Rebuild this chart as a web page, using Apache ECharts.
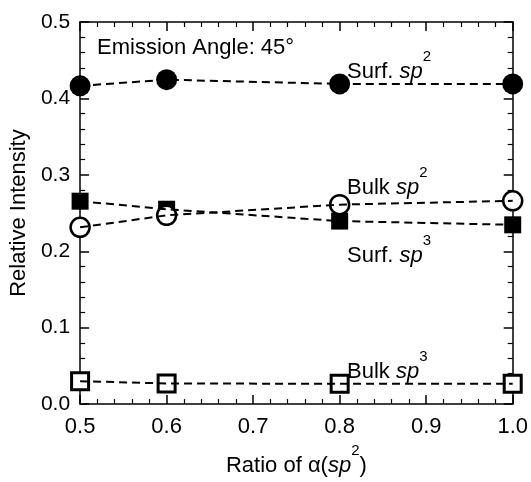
<!DOCTYPE html>
<html><head><meta charset="utf-8">
<script src="https://cdn.jsdelivr.net/npm/echarts@6/dist/echarts.min.js"></script>
<style>html,body{margin:0;padding:0;background:#fff}#c{width:531px;height:482px}</style>
</head><body><div id="c"></div>
<script>
var ratios = [0.5, 0.6, 0.8, 1.0];
var surfSp2 = [0.4165, 0.4245, 0.419, 0.419];
var surfSp3 = [0.2655, 0.255, 0.2395, 0.2346];
var bulkSp2 = [0.2313, 0.247, 0.261, 0.266];
var bulkSp3 = [0.030, 0.027, 0.0266, 0.0266];
var xTicks = [0.5, 0.6, 0.7, 0.8, 0.9, 1.0];
var yTicks = [0.0, 0.1, 0.2, 0.3, 0.4, 0.5];

var FONT = 'Liberation Sans, Arial, sans-serif';
var chart = echarts.init(document.getElementById('c'));
function pts(v){ return ratios.map(function(x,i){ return [x, v[i]]; }); }
function rich(sz){
  return {
    n:{fontSize:sz, fontFamily:FONT, color:'#000', lineHeight:34, verticalAlign:'bottom'},
    i:{fontSize:sz, fontFamily:FONT, fontStyle:'italic', color:'#000', lineHeight:34, verticalAlign:'bottom'},
    s:{fontSize:Math.round(sz*0.7), fontFamily:FONT, color:'#000', lineHeight:34, verticalAlign:'top'}
  };
}
var axisCommon = {
  type:'value', min:0, max:0.5, interval:0.1,
  axisLine:{show:true, onZero:false, lineStyle:{color:'#000', width:1.5}},
  axisTick:{show:true, inside:true, length:9, lineStyle:{color:'#000', width:1.5}},
  minorTick:{show:true, splitNumber:5, length:5, lineStyle:{color:'#000', width:1.2}},
  splitLine:{show:false}
};
function markers(name, data, symbol, size, filled, bw, z){
  return {
    name:name, type:'scatter', data:pts(data), symbol:symbol, symbolSize:size,
    itemStyle: filled ? {color:'#000', borderWidth:0, opacity:1} : {color:'#fff', borderColor:'#000', borderWidth:bw, opacity:1},
    emphasis:{disabled:true}, z:z, animation:false
  };
}
function dashed(name, data){
  return {
    name:name, type:'line', data:pts(data), symbol:'none',
    lineStyle:{color:'#000', width:2, type:[8,5]}, z:10, animation:false
  };
}
chart.setOption({
  animation:false,
  grid:{left:73, right:17, top:22, bottom:65},
  xAxis:[
    Object.assign({}, axisCommon, {min:0.5, max:1.0, interval:0.1, position:'bottom',
      axisLabel:{show:true, margin:12, fontSize:22, fontFamily:FONT, color:'#000',
        formatter:function(v){ return v.toFixed(1); }},
      name:'{n|Ratio of α(}{i|sp}{s|2}{n|)}', nameLocation:'middle', nameGap:38,
      nameTextStyle:{rich:rich(22)}}),
    Object.assign({}, axisCommon, {min:0.5, max:1.0, interval:0.1, position:'top',
      axisLabel:{show:false}})
  ],
  yAxis:[
    Object.assign({}, axisCommon, {position:'left',
      axisLabel:{show:true, margin:10, fontSize:21, fontFamily:FONT, color:'#000',
        formatter:function(v){ return v.toFixed(1); }},
      name:'Relative Intensity', nameLocation:'middle', nameGap:44,
      nameTextStyle:{fontSize:22, fontFamily:FONT, color:'#000'}}),
    Object.assign({}, axisCommon, {position:'right', axisLabel:{show:false}})
  ],
  series:[
    markers('Surf. sp2', surfSp2, 'circle', 21, true, 0, 3),
    markers('Surf. sp3', surfSp3, 'rect', 17, true, 0, 3),
    markers('Bulk sp2', bulkSp2, 'circle', 19, false, 2.5, 4),
    markers('Bulk sp3', bulkSp3, 'rect', 17, false, 3, 4),
    dashed('Surf. sp2 line', surfSp2),
    dashed('Surf. sp3 line', surfSp3),
    dashed('Bulk sp2 line', bulkSp2),
    dashed('Bulk sp3 line', bulkSp3)
  ],
  graphic:[
    {type:'text', left:97, top:37, style:{text:'Emission Angle: 45°', fontSize:22, fontFamily:FONT, fill:'#000'}},
    {type:'text', left:347, top:49, style:{text:'{n|Surf. }{i|sp}{s|2}', rich:rich(22)}},
    {type:'text', left:347, top:165, style:{text:'{n|Bulk }{i|sp}{s|2}', rich:rich(22)}},
    {type:'text', left:347, top:233, style:{text:'{n|Surf. }{i|sp}{s|3}', rich:rich(22)}},
    {type:'text', left:347, top:349, style:{text:'{n|Bulk }{i|sp}{s|3}', rich:rich(22)}}
  ]
});
</script></body></html>
